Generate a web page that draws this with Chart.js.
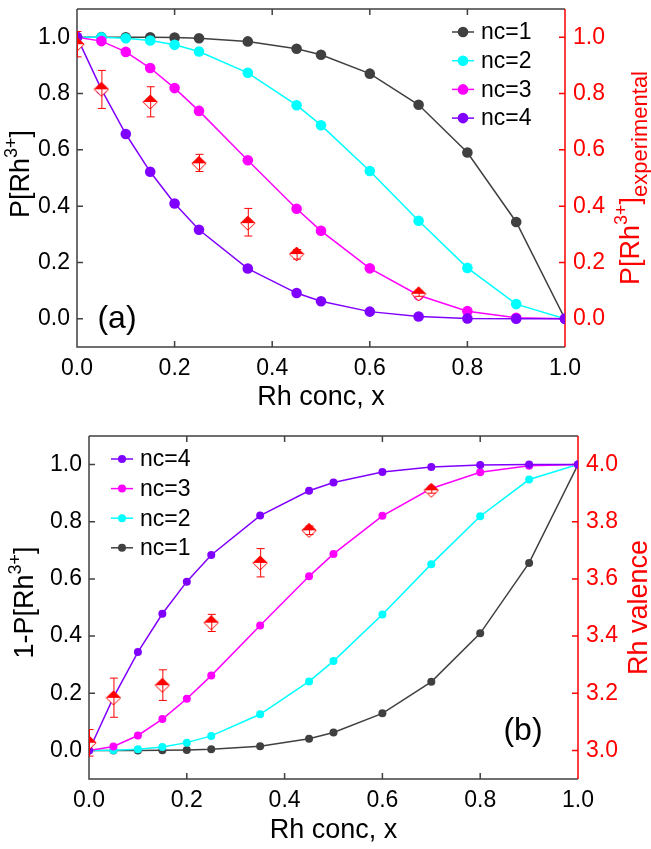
<!DOCTYPE html>
<html><head><meta charset="utf-8">
<script src="https://cdn.jsdelivr.net/npm/chart.js@4.4.1/dist/chart.umd.min.js"></script>
<style>
html,body{margin:0;padding:0;background:#fff;width:651px;height:849px;overflow:hidden}
#c1{position:absolute;left:0;top:0}
#c2{position:absolute;left:0;top:420px}
</style></head><body>
<canvas id="c1" width="651" height="420"></canvas>
<canvas id="c2" width="651" height="429"></canvas>
<script>
// ---------- data ----------
const xConc = [0, 0.05, 0.1, 0.15, 0.2, 0.25, 0.35, 0.45, 0.5, 0.6, 0.7, 0.8, 0.9, 1.0];
// panel (a): P[Rh3+]
const pNc1 = [1.0, 1.0, 0.9999, 0.9995, 0.9984, 0.9961, 0.985, 0.959, 0.9375, 0.8704, 0.7599, 0.5904, 0.3439, 0.0];
const pNc2 = [1.0, 0.9995, 0.9963, 0.988, 0.9728, 0.9492, 0.8735, 0.7585, 0.6875, 0.5248, 0.3483, 0.1808, 0.0523, 0.0];
const pNc3 = [1.0, 0.986, 0.9477, 0.8905, 0.8192, 0.7383, 0.563, 0.391, 0.3125, 0.1792, 0.0837, 0.0272, 0.0037, 0.0];
const pNc4 = [1.0, 0.8145, 0.6561, 0.522, 0.4096, 0.3164, 0.1785, 0.0915, 0.0625, 0.0256, 0.0081, 0.0016, 0.0001, 0.0];
// panel (b): 1-P[Rh3+]
const qNc4 = [0.0, 0.1855, 0.3439, 0.478, 0.5904, 0.6836, 0.8215, 0.9085, 0.9375, 0.9744, 0.9919, 0.9984, 0.9999, 1.0];
const qNc3 = [0.0, 0.014, 0.0523, 0.1095, 0.1808, 0.2617, 0.437, 0.609, 0.6875, 0.8208, 0.9163, 0.9728, 0.9963, 1.0];
const qNc2 = [0.0, 0.0005, 0.0037, 0.012, 0.0272, 0.0508, 0.1265, 0.2415, 0.3125, 0.4752, 0.6517, 0.8192, 0.9477, 1.0];
const qNc1 = [0.0, 0.0, 0.0001, 0.0005, 0.0016, 0.0039, 0.015, 0.041, 0.0625, 0.1296, 0.2401, 0.4096, 0.6561, 1.0];
// experimental
const xExp = [0, 0.05, 0.15, 0.25, 0.35, 0.45, 0.7];
const pExp = [0.975, 0.815, 0.770, 0.552, 0.340, 0.230, 0.089];
const pExpLow = [0.93, 0.747, 0.717, 0.523, 0.294, 0.212, 0.080];
const pExpHigh = [1.02, 0.882, 0.824, 0.584, 0.392, 0.246, 0.098];
const valExp = [3.027, 3.184, 3.228, 3.447, 3.656, 3.770, 3.910];
const valExpLow = [2.98, 3.116, 3.175, 3.416, 3.607, 3.755, 3.900];
const valExpHigh = [3.073, 3.253, 3.282, 3.476, 3.706, 3.785, 3.920];
// ticks
const xTicks = [0, 0.2, 0.4, 0.6, 0.8, 1.0];
const fracTicks = [0, 0.2, 0.4, 0.6, 0.8, 1.0];
const valenceTicks = [3.0, 3.2, 3.4, 3.6, 3.8, 4.0];
const legendA = ['nc=1', 'nc=2', 'nc=3', 'nc=4'];
const legendB = ['nc=4', 'nc=3', 'nc=2', 'nc=1'];

// ---------- styling ----------
const FONT = "'Liberation Sans', Arial, Helvetica, sans-serif";
const C = {nc1: '#404040', nc2: '#00ffff', nc3: '#ff00ff', nc4: '#8000ff', red: '#ff0000', axis: '#404040'};
const TICKFONT = 23;

function diamondCanvas() {
  const w = 16, h = 16, c = document.createElement('canvas');
  c.width = w; c.height = h;
  const g = c.getContext('2d');
  const cx = 8, cy = 8, hw = 7.2, hh = 7;
  g.beginPath(); g.moveTo(cx, cy - hh); g.lineTo(cx + hw, cy); g.lineTo(cx, cy + hh); g.lineTo(cx - hw, cy); g.closePath();
  g.fillStyle = '#fff'; g.fill();
  g.beginPath(); g.moveTo(cx, cy - hh); g.lineTo(cx + hw, cy); g.lineTo(cx - hw, cy); g.closePath();
  g.fillStyle = C.red; g.fill();
  g.beginPath(); g.moveTo(cx, cy - hh); g.lineTo(cx + hw, cy); g.lineTo(cx, cy + hh); g.lineTo(cx - hw, cy); g.closePath();
  g.strokeStyle = C.red; g.lineWidth = 1; g.stroke();
  return c;
}
const DIAMOND = diamondCanvas();

function pts(xs, ys) { return xs.map((x, i) => ({x: x, y: ys[i]})); }

function lineSet(label, color, xs, ys, r, order) {
  return {label, data: pts(xs, ys), borderColor: color, backgroundColor: color, pointBackgroundColor: color,
    pointBorderColor: color, pointBorderWidth: 0, pointRadius: r, borderWidth: 1.5, tension: 0, order, clip: 0, yAxisID: 'y'};
}

function richText(ctx, parts, x, y, angle, align) {
  ctx.save(); ctx.translate(x, y); ctx.rotate(angle);
  let total = 0;
  parts.forEach(p => { ctx.font = p.size + 'px ' + FONT; p.w = ctx.measureText(p.t).width; total += p.w; });
  let cx = align === 'center' ? -total / 2 : 0;
  ctx.textBaseline = 'alphabetic'; ctx.textAlign = 'left';
  parts.forEach(p => { ctx.font = p.size + 'px ' + FONT; ctx.fillStyle = p.color; ctx.fillText(p.t, cx, p.dy || 0); cx += p.w; });
  ctx.restore();
}

function framePlugin(cfg) {
  return {
    id: 'frame' + cfg.id,
    beforeDatasetsDraw(chart) {
      const ctx = chart.ctx, a = chart.chartArea, sx = chart.scales.x, sy = chart.scales.y, sy2 = chart.scales.y2;
      ctx.save();
      ctx.lineWidth = 1.5; ctx.lineCap = 'butt';
      const TL = 6;
      ctx.strokeStyle = C.axis;
      ctx.beginPath();
      ctx.moveTo(a.left, a.top); ctx.lineTo(a.left, a.bottom); ctx.lineTo(a.right, a.bottom);
      ctx.moveTo(a.left, a.top); ctx.lineTo(a.right, a.top);
      xTicks.forEach(v => { const px = sx.getPixelForValue(v); if (v > 0 && v < 1) { ctx.moveTo(px, a.bottom); ctx.lineTo(px, a.bottom - TL); ctx.moveTo(px, a.top); ctx.lineTo(px, a.top + TL); } });
      fracTicks.forEach(v => { const py = sy.getPixelForValue(v); ctx.moveTo(a.left, py); ctx.lineTo(a.left + TL, py); });
      ctx.stroke();
      ctx.strokeStyle = C.red;
      ctx.beginPath();
      ctx.moveTo(a.right, a.top); ctx.lineTo(a.right, a.bottom);
      cfg.rightTicks.forEach(v => { const py = sy2.getPixelForValue(v); ctx.moveTo(a.right, py); ctx.lineTo(a.right - TL, py); });
      ctx.stroke();
      ctx.restore();
    },
    afterDatasetsDraw(chart) {
      const ctx = chart.ctx, sx = chart.scales.x, sy2 = chart.scales.y2;
      ctx.save();
      ctx.strokeStyle = C.red; ctx.lineWidth = 1;
      const a = chart.chartArea;
      ctx.beginPath(); ctx.rect(a.left, a.top - 2, a.right - a.left, a.bottom - a.top + 4); ctx.clip();
      ctx.beginPath();
      xExp.forEach((x, i) => {
        const px = sx.getPixelForValue(x), lo = sy2.getPixelForValue(cfg.low[i]), hi = sy2.getPixelForValue(cfg.high[i]);
        ctx.moveTo(px + 0.5, hi); ctx.lineTo(px + 0.5, lo);
        ctx.moveTo(px - 3.5, hi); ctx.lineTo(px + 4.5, hi);
        ctx.moveTo(px - 3.5, lo); ctx.lineTo(px + 4.5, lo);
      });
      ctx.stroke();
      ctx.restore();
    },
    afterDraw(chart) {
      const ctx = chart.ctx, a = chart.chartArea;
      // legend
      const L = cfg.legend;
      L.labels.forEach((lab, i) => {
        const y = L.y0 + i * L.dy, col = L.colors[i];
        ctx.save();
        ctx.strokeStyle = col; ctx.lineWidth = 1.5;
        ctx.beginPath(); ctx.moveTo(L.x0, y); ctx.lineTo(L.x0 + 22, y); ctx.stroke();
        ctx.fillStyle = col; ctx.beginPath(); ctx.arc(L.x0 + 11, y, L.r, 0, Math.PI * 2); ctx.fill();
        ctx.font = '23px ' + FONT; ctx.textBaseline = 'middle'; ctx.textAlign = 'left'; ctx.fillStyle = '#000';
        ctx.fillText(lab, L.x0 + 29, y + 1);
        ctx.restore();
      });
      // panel label
      ctx.save(); ctx.font = '32px ' + FONT; ctx.fillStyle = '#000'; ctx.textAlign = 'center'; ctx.textBaseline = 'middle';
      ctx.fillText(cfg.panel.t, cfg.panel.x, cfg.panel.y); ctx.restore();
      // x title
      richText(ctx, [{t: 'Rh conc, x', size: 27, color: '#000'}], (a.left + a.right) / 2, cfg.xTitleY, 0, 'center');
      // y titles
      richText(ctx, cfg.leftTitle, cfg.leftTitleX, (a.top + a.bottom) / 2 + cfg.leftTitleDy, -Math.PI / 2, 'center');
      richText(ctx, cfg.rightTitle, cfg.rightTitleX, (a.top + a.bottom) / 2, -Math.PI / 2, 'center');
    }
  };
}

function makeChart(el, cfg) {
  const yW = cfg.leftW, y2W = cfg.rightW;
  return new Chart(document.getElementById(el), {
    type: 'line',
    data: {datasets: cfg.datasets},
    options: {
      responsive: false, animation: false, devicePixelRatio: 1,
      layout: {padding: {top: cfg.top, left: 0, right: 0, bottom: 0}},
      plugins: {legend: {display: false}, tooltip: {enabled: false}},
      scales: {
        x: {type: 'linear', min: 0, max: 1, position: 'bottom',
          grid: {display: false, drawTicks: false}, border: {display: false},
          afterBuildTicks: s => { s.ticks = xTicks.map(v => ({value: v})); },
          afterFit: s => { s.height = cfg.xH; s.paddingLeft = 0; s.paddingRight = 0; },
          ticks: {padding: 8, color: '#000', font: {family: FONT, size: TICKFONT}, callback: v => Number(v).toFixed(1), maxRotation: 0, autoSkip: false}},
        y: {type: 'linear', min: -0.1, max: 1.1, position: 'left',
          grid: {display: false, drawTicks: false}, border: {display: false},
          afterBuildTicks: s => { s.ticks = fracTicks.map(v => ({value: v})); },
          afterFit: s => { s.width = yW; s.paddingTop = 0; s.paddingBottom = 0; },
          ticks: {padding: 7, color: '#000', font: {family: FONT, size: TICKFONT}, callback: v => Number(v).toFixed(1)}},
        y2: {type: 'linear', min: cfg.rMin, max: cfg.rMax, position: 'right',
          grid: {display: false, drawTicks: false}, border: {display: false},
          afterBuildTicks: s => { s.ticks = cfg.rightTicks.map(v => ({value: v})); },
          afterFit: s => { s.width = y2W; s.paddingTop = 0; s.paddingBottom = 0; },
          ticks: {padding: 8, color: C.red, font: {family: FONT, size: TICKFONT}, callback: v => Number(v).toFixed(1)}}
      }
    },
    plugins: [framePlugin(cfg)]
  });
}

function expSet(ys) {
  return {label: 'exp', data: pts(xExp, ys), showLine: false, pointStyle: DIAMOND, pointRadius: 8, order: 0, clip: 0, yAxisID: 'y2'};
}

makeChart('c1', {
  id: 'a', top: 4, leftW: 77, rightW: 86, xH: 73, rMin: -0.1, rMax: 1.1, rightTicks: fracTicks,
  low: pExpLow, high: pExpHigh, xTitleY: 405,
  datasets: [expSet(pExp),
    lineSet('nc=4', C.nc4, xConc, pNc4, 5.3, 1), lineSet('nc=3', C.nc3, xConc, pNc3, 5.3, 2),
    lineSet('nc=2', C.nc2, xConc, pNc2, 5.3, 3), lineSet('nc=1', C.nc1, xConc, pNc1, 5.3, 4)],
  legend: {labels: legendA, colors: [C.nc1, C.nc2, C.nc3, C.nc4], x0: 452, y0: 32, dy: 28.7, r: 5.3},
  panel: {t: '(a)', x: 117, y: 319},
  leftTitle: [{t: 'P[Rh', size: 27, color: '#000'}, {t: '3+', size: 18, dy: -12, color: '#000'}, {t: ']', size: 27, color: '#000'}],
  leftTitleX: 29, leftTitleDy: -4,
  rightTitle: [{t: 'P[Rh', size: 27, color: C.red}, {t: '3+', size: 18, dy: -12, color: C.red}, {t: ']', size: 27, color: C.red}, {t: 'experimental', size: 22, dy: 8, color: C.red}],
  rightTitleX: 639
});

makeChart('c2', {
  id: 'b', top: 16, leftW: 89, rightW: 73, xH: 70, rMin: 2.9, rMax: 4.1, rightTicks: valenceTicks,
  low: valExpLow, high: valExpHigh, xTitleY: 418,
  datasets: [expSet(valExp),
    lineSet('nc=4', C.nc4, xConc, qNc4, 4, 1), lineSet('nc=3', C.nc3, xConc, qNc3, 4, 2),
    lineSet('nc=2', C.nc2, xConc, qNc2, 4, 3), lineSet('nc=1', C.nc1, xConc, qNc1, 4, 4)],
  legend: {labels: legendB, colors: [C.nc4, C.nc3, C.nc2, C.nc1], x0: 111, y0: 39, dy: 29.6, r: 4},
  panel: {t: '(b)', x: 523, y: 311},
  leftTitle: [{t: '1-P[Rh', size: 27, color: '#000'}, {t: '3+', size: 18, dy: -12, color: '#000'}, {t: ']', size: 27, color: '#000'}],
  leftTitleX: 33, leftTitleDy: -5,
  rightTitle: [{t: 'Rh valence', size: 27, color: C.red}],
  rightTitleX: 647
});
</script>
</body></html>
